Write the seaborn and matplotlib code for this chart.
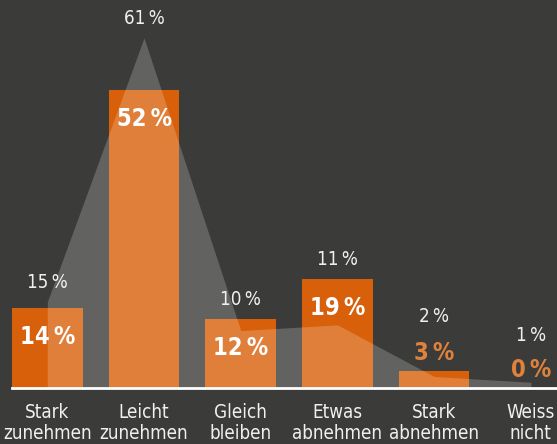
import matplotlib
matplotlib.use("Agg")
import matplotlib.pyplot as plt
import seaborn as sns
import pandas as pd

categories = ["Stark\nzunehmen", "Leicht\nzunehmen", "Gleich\nbleiben",
              "Etwas\nabnehmen", "Stark\nabnehmen", "Weiss\nnicht"]
bar_values = [14, 52, 12, 19, 3, 0]
area_values = [15, 61, 10, 11, 2, 1]

BG = "#3b3b3a"
ORANGE = "#d9600a"
LIGHT_ORANGE = "#e0823c"

sns.set_theme(style="white")
plt.rcParams["font.family"] = ["DejaVu Sans"]
plt.rcParams["font.stretch"] = "condensed"

fig = plt.figure(figsize=(5.57, 4.44), dpi=100, facecolor=BG)
ax = fig.add_axes([12 / 557, 56 / 444, 545 / 557, 388 / 444])
ax.set_facecolor(BG)

df = pd.DataFrame({"cat": categories, "val": bar_values})
sns.barplot(data=df, x="cat", y="val", color=ORANGE, saturation=1,
            width=0.73, linewidth=0, ax=ax, zorder=2)
ax.fill_between(range(len(area_values)), area_values, 0, color="white",
                alpha=0.2, linewidth=0, zorder=3)

ax.set_xlim(-0.365, 5.27)
ax.set_ylim(0, 67.6)
for s in ["top", "right", "left"]:
    ax.spines[s].set_visible(False)
ax.spines["bottom"].set_color("white")
ax.spines["bottom"].set_linewidth(2)
ax.spines["bottom"].set_zorder(5)
ax.set_yticks([])
ax.set_xlabel("")
ax.set_ylabel("")
ax.tick_params(axis="x", length=0, pad=11, labelsize=13.5, colors="#f0f0f0")
for t in ax.get_xticklabels():
    t.set_linespacing(1.1)
    t.set_fontstretch("condensed")

for i, (b, a) in enumerate(zip(bar_values, area_values)):
    if b >= 10:
        ax.annotate(f"{b}\u2009%", (i, b), xytext=(0, -21), textcoords="offset points",
                    ha="center", va="center", fontsize=17, fontweight="bold",
                    color="white", zorder=6, fontstretch="condensed")
        top = max(b, a)
        ax.annotate(f"{a}\u2009%", (i, top), xytext=(0, 14), textcoords="offset points",
                    ha="center", va="center", fontsize=13.5, color="#f0f0f0",
                    zorder=6, annotation_clip=False, fontstretch="condensed")
    else:
        ax.annotate(f"{b}\u2009%", (i, b), xytext=(0, 13), textcoords="offset points",
                    ha="center", va="center", fontsize=17, fontweight="bold",
                    color=LIGHT_ORANGE, zorder=6, fontstretch="condensed")
        ax.annotate(f"{a}\u2009%", (i, b), xytext=(0, 39 if b > 0 else 38),
                    textcoords="offset points",
                    ha="center", va="center", fontsize=13.5, color="#f0f0f0",
                    zorder=6, fontstretch="condensed")

fig.savefig("out.png", dpi=100, facecolor=BG)
